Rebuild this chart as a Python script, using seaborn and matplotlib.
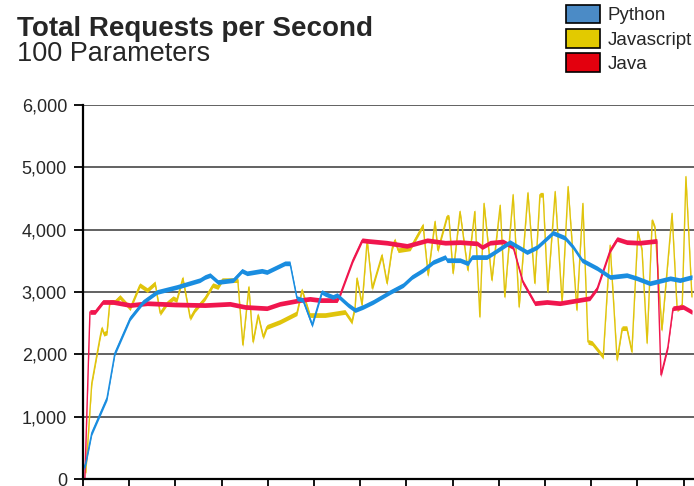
import numpy as np
import pandas as pd
import matplotlib
matplotlib.use("Agg")
import matplotlib.pyplot as plt
from matplotlib.patches import Patch
import seaborn as sns

# ---------- data (x in seconds) ----------
python_t = [0.2, 0.6, 1.9, 5.2, 6.9, 10.2, 13.0, 16.0, 20.3, 25.3, 26.4, 27.5, 29.2,
            32.5, 34.4, 35.5, 38.7, 39.8, 43.7, 44.8, 46.3, 47.6, 49.6, 51.7, 52.4,
            54.1, 55.0, 57.4, 58.9, 60.6, 62.8, 66.5, 69.3, 71.2, 73.6, 75.8, 78.4,
            78.8, 81.6, 83.3, 84.2, 87.4, 88.7, 92.4, 96.1, 98.3, 101.7, 104.3,
            106.1, 108.0, 111.3, 114.1, 117.7, 119.9, 122.7, 127.1, 129.2, 131.8]
python_rps = [180, 256, 740, 1300, 2020, 2580, 2840, 3000, 3080, 3190, 3240, 3270, 3160,
              3190, 3340, 3300, 3340, 3320, 3460, 3460, 2900, 2870, 2470, 3000, 2970,
              2920, 2950, 2790, 2710, 2760, 2840, 3000, 3110, 3240, 3350, 3480, 3560,
              3510, 3510, 3460, 3560, 3560, 3620, 3800, 3640, 3720, 3950, 3870,
              3720, 3510, 3380, 3240, 3270, 3220, 3140, 3220, 3190, 3240]

js_t = [0.6, 1.9, 3.7, 4.1, 4.5, 5.2, 5.8, 6.9, 8.0, 10.2, 12.3, 13.9, 15.6, 16.7,
        18.2, 19.5, 20.3, 21.6, 23.2, 24.2, 26.4, 28.1, 29.2, 30.1, 33.5, 34.6,
        35.9, 36.8, 37.9, 39.0, 39.8, 42.6, 46.3, 47.4, 49.1, 52.4, 56.7, 58.2,
        58.9, 59.3, 60.4, 61.5, 62.6, 64.7, 65.8, 66.9, 67.5, 68.2, 70.8, 73.6,
        74.7, 76.2, 76.8, 78.8, 79.2, 80.1, 81.6, 83.3, 84.8, 85.9, 86.8, 88.5,
        90.3, 91.3, 93.1, 94.4, 96.3, 97.8, 98.9, 99.6, 100.6, 102.2, 103.7,
        105.0, 106.9, 108.2, 109.3, 110.2, 112.6, 114.1, 115.6, 116.7, 117.7,
        118.8, 120.1, 121.0, 122.1, 123.2, 123.8, 125.3, 127.5, 128.6, 129.7,
        130.5, 131.8]
js_rps = [100, 1540, 2280, 2420, 2330, 2350, 2840, 2840, 2920, 2740, 3110, 3030, 3140, 2660,
          2820, 2900, 2870, 3220, 2580, 2710, 2900, 3110, 3080, 3190, 3190, 2150,
          3080, 2200, 2630, 2280, 2440, 2520, 2660, 3030, 2630, 2630, 2680, 2520,
          2760, 3220, 2790, 3830, 3060, 3590, 3140, 3700, 3830, 3670, 3700, 4070,
          3270, 4130, 3670, 4210, 4200, 3300, 4290, 3350, 4290, 2600, 4420, 3190,
          4390, 2920, 4560, 2760, 4590, 3140, 4560, 4560, 3000, 4610, 2820,
          4690, 2710, 4420, 2200, 2180, 1960, 3750, 1910, 2420, 2420,
          2040, 3970, 3670, 2180, 4150, 4030, 2390, 4260, 2720, 2790,
          4850, 2920]

java_t = [0.4, 1.5, 2.6, 4.3, 6.5, 10.2, 13.9, 19.9, 26.4, 31.8, 35.1, 39.8, 42.6,
          47.0, 49.1, 51.3, 55.0, 55.6, 58.4, 60.4, 61.5, 65.8, 70.1, 74.5, 78.4,
          81.6, 85.3, 86.4, 88.1, 90.9, 93.1, 95.2, 97.8, 100.4, 103.2, 109.7,
          111.3, 114.1, 115.6, 117.7, 120.5, 124.2, 125.1, 126.6, 127.7, 129.9, 131.8]
java_rps = [0, 2680, 2680, 2840, 2840, 2790, 2820, 2800, 2790, 2810, 2760, 2740, 2810,
            2870, 2890, 2870, 2870, 2950, 3510, 3830, 3820, 3790, 3740, 3830, 3790,
            3800, 3780, 3720, 3790, 3810, 3720, 3160, 2820, 2840, 2820, 2900,
            3060, 3670, 3850, 3800, 3790, 3820, 1670, 2120, 2740, 2760, 2680]

series = ["Python", "Javascript", "Java"]
line_colors = {"Python": "#1a8de0", "Javascript": "#e0c40c", "Java": "#f0164e"}
legend_colors = {"Python": "#4b8bc6", "Javascript": "#e2ca00", "Java": "#e3000e"}

df = pd.concat([
    pd.DataFrame({"t": python_t, "rps": python_rps, "lang": "Python"}),
    pd.DataFrame({"t": js_t, "rps": js_rps, "lang": "Javascript"}),
    pd.DataFrame({"t": java_t, "rps": java_rps, "lang": "Java"}),
])

# ---------- plot ----------
sns.set_style("white")
plt.rcParams["font.family"] = ["Liberation Sans", "DejaVu Sans"]

fig = plt.figure(figsize=(6.94, 4.86), dpi=100)
ax = fig.add_axes([83 / 694, 7 / 486, 1 - 83 / 694, 374 / 486])

band = 38  # constant vertical thickness of the strokes
for lang in ["Javascript", "Java", "Python"]:
    d = df[df["lang"] == lang]
    ax.fill_between(d["t"], d["rps"] - band, d["rps"] + band,
                    color=line_colors[lang], linewidth=0, zorder=3)
    sns.lineplot(data=d, x="t", y="rps", ax=ax, color=line_colors[lang],
                 linewidth=1.0, estimator=None, sort=False, zorder=3)

ax.set_xlim(0, 132.25)
ax.set_ylim(0, 6000)
ax.set_yticks(np.arange(0, 6001, 1000))
ax.set_yticklabels([f"{v:,}" for v in range(0, 6001, 1000)])
ax.set_xticks(np.arange(0, 131, 10))
ax.set_xticklabels([])
ax.set_xlabel("")
ax.set_ylabel("")
ax.grid(axis="y", color="#555555", linewidth=1.3)
ax.grid(axis="x", visible=False)
for s in ["top", "right"]:
    ax.spines[s].set_visible(False)
for s in ["left", "bottom"]:
    ax.spines[s].set_color("black")
    ax.spines[s].set_linewidth(1.6)
    ax.spines[s].set_zorder(4)
ax.tick_params(axis="y", direction="out", length=6.5, width=1.3, color="black",
               labelsize=13, pad=5, left=True)
ax.tick_params(axis="x", direction="out", length=6, width=1.3, color="black", bottom=True)

fig.text(17 / 694, 1 - 36 / 486, "Total Requests per Second", fontsize=20,
         fontweight="bold", ha="left", va="baseline")
fig.text(17 / 694, 1 - 61 / 486, "100 Parameters", fontsize=19.5,
         ha="left", va="baseline")

handles = [Patch(facecolor=legend_colors[k], edgecolor="black", linewidth=1.2) for k in series]
fig.legend(handles, series, loc="upper left", bbox_to_anchor=(562 / 694, 1 - 1 / 486),
           frameon=False, fontsize=13.5, handlelength=1.85, handleheight=1.15,
           labelspacing=0.25, handletextpad=0.4, borderaxespad=0, borderpad=0.2)

fig.savefig("out.png", dpi=100)
